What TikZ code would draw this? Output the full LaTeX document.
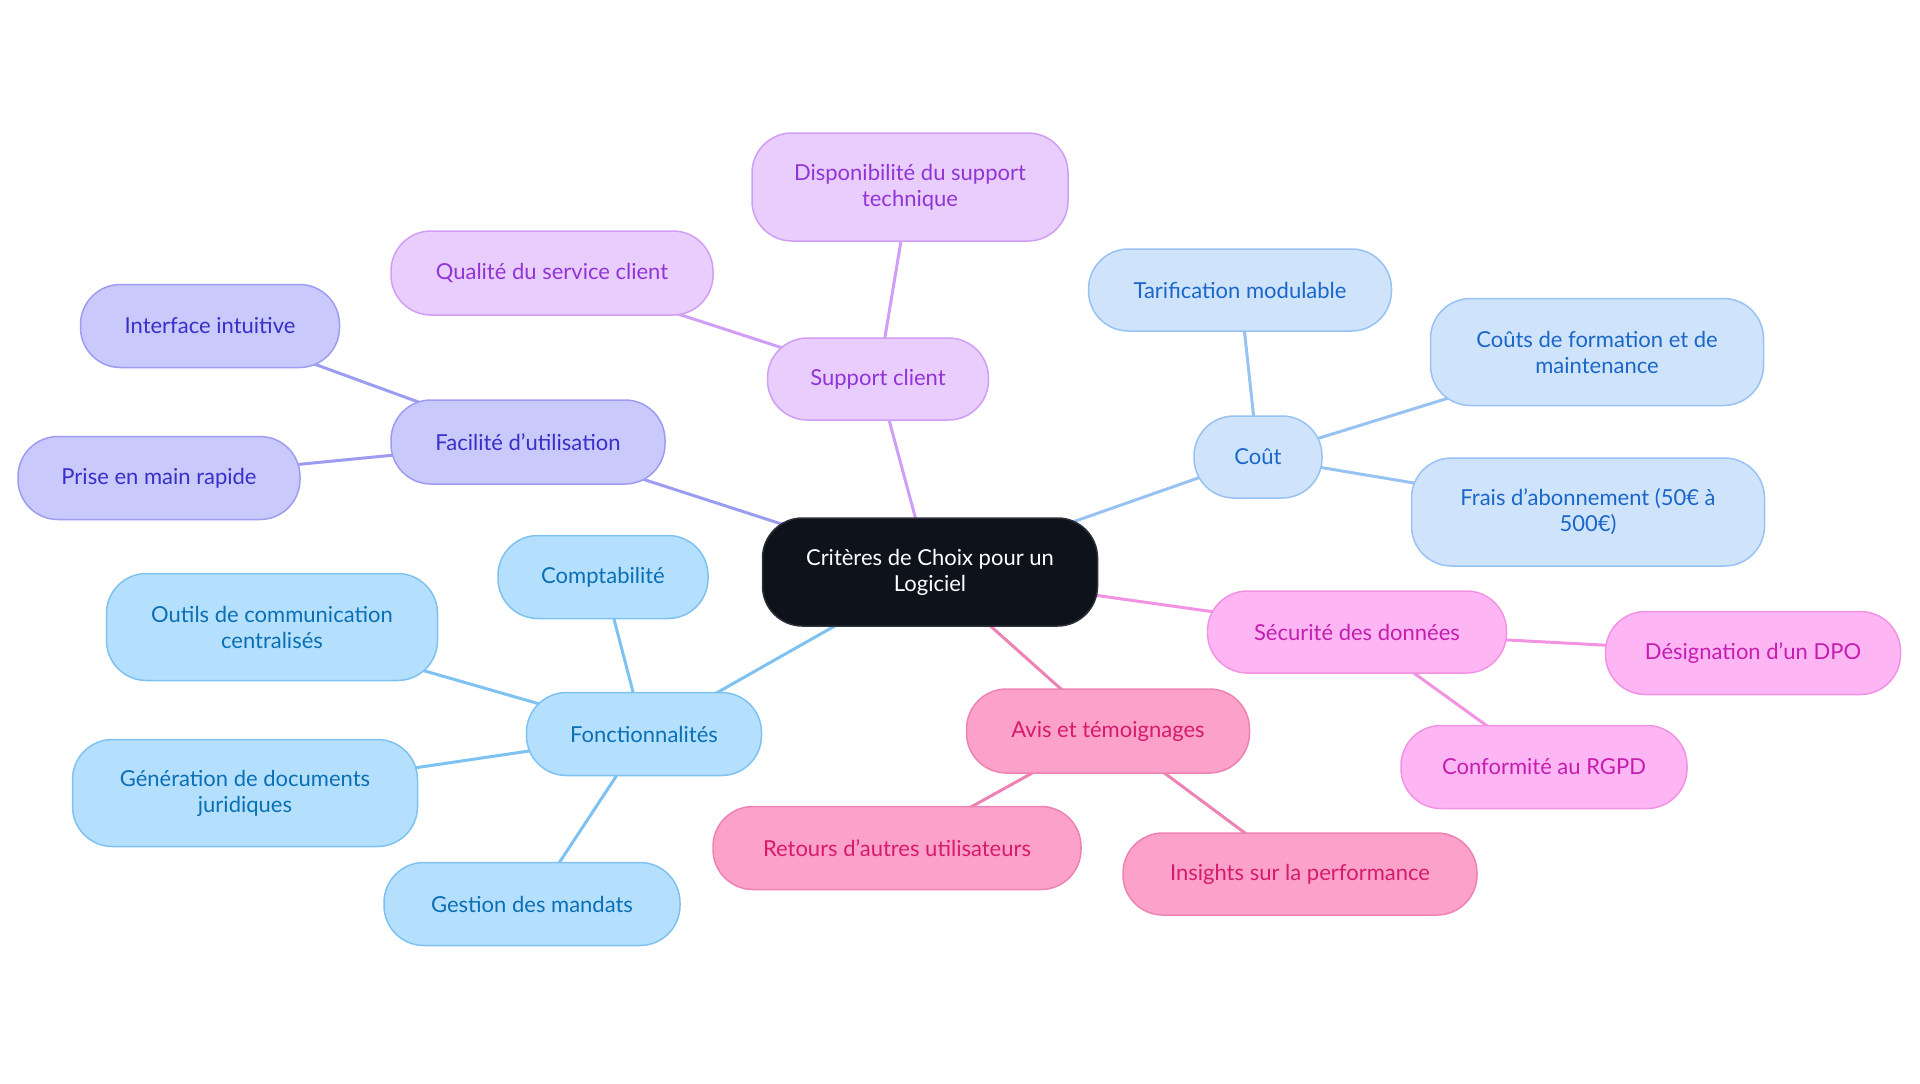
\documentclass[tikz,border=0pt]{standalone}
\usepackage{fontspec}
\setmainfont{Lato}[Ligatures=ResetAll]
\usetikzlibrary{backgrounds}
\definecolor{cenfill}{HTML}{0D121B}
\definecolor{cenborder}{HTML}{2B2F36}
\definecolor{indF}{HTML}{C9C9FB}\definecolor{indB}{HTML}{9C9CF0}\definecolor{indT}{HTML}{3730C8}
\definecolor{vioF}{HTML}{E9CDFD}\definecolor{vioB}{HTML}{D19EF6}\definecolor{vioT}{HTML}{9134D6}
\definecolor{lbF}{HTML}{CFE3FB}\definecolor{lbB}{HTML}{98C2F1}\definecolor{lbT}{HTML}{1A67C8}
\definecolor{skyF}{HTML}{B5E0FD}\definecolor{skyB}{HTML}{7DC2F1}\definecolor{skyT}{HTML}{0A6FB5}
\definecolor{pkF}{HTML}{FDB6F3}\definecolor{pkB}{HTML}{F292E2}\definecolor{pkT}{HTML}{C41DB0}
\definecolor{hpF}{HTML}{FCA1CA}\definecolor{hpB}{HTML}{EE82B4}\definecolor{hpT}{HTML}{D61A6C}
\tikzset{
  base/.style={rounded corners=20pt, draw, line width=0.75pt, align=center,
    font=\fontsize{11}{13}\selectfont, inner sep=0pt},
  sz/.style 2 args={minimum width=#1*0.5pt, minimum height=#2*0.5pt},
  cen/.style={base, fill=cenfill, draw=cenborder, text=white},
  ind/.style={base, fill=indF, draw=indB, text=indT},
  vio/.style={base, fill=vioF, draw=vioB, text=vioT},
  lb/.style={base, fill=lbF, draw=lbB, text=lbT},
  sky/.style={base, fill=skyF, draw=skyB, text=skyT},
  pk/.style={base, fill=pkF, draw=pkB, text=pkT},
  hp/.style={base, fill=hpF, draw=hpB, text=hpT},
  ln/.style={line width=1.5pt, draw=#1}
}
\begin{document}
\begin{tikzpicture}[x=0.5pt,y=-0.5pt]
\useasboundingbox (0,0) rectangle (1920,1083);
\node[cen,sz={335}{108}] (root) at (930,572) {Critères de Choix pour un\\Logiciel};
\node[vio,sz={221}{82}] (sup) at (878,379) {Support client};
\node[vio,sz={316}{108}] (dispo) at (910,187) {Disponibilité du support\\technique};
\node[vio,sz={322}{84}] (qual) at (552,273) {Qualité du service client};
\node[ind,sz={274}{84}] (fac) at (528,442) {Facilité d'utilisation};
\node[ind,sz={259}{83}] (inter) at (210,326) {Interface intuitive};
\node[ind,sz={282}{83}] (prise) at (159,478) {Prise en main rapide};
\node[lb,sz={128}{82}] (cout) at (1258,457) {Coût};
\node[lb,sz={303}{82}] (tarif) at (1240,290) {Tarification modulable};
\node[lb,sz={333}{107}] (form) at (1597,352) {Coûts de formation et de\\maintenance};
\node[lb,sz={353}{108}] (frais) at (1588,512) {Frais d'abonnement (50€ à\\500€)};
\node[pk,sz={299}{82}] (secu) at (1357,632) {Sécurité des données};
\node[pk,sz={295}{83}] (dpo) at (1753,653) {Désignation d'un DPO};
\node[pk,sz={286}{83}] (rgpd) at (1544,767) {Conformité au RGPD};
\node[hp,sz={283}{84}] (avis) at (1108,731) {Avis et témoignages};
\node[hp,sz={368}{83}] (ret) at (897,848) {Retours d'autres utilisateurs};
\node[hp,sz={354}{82}] (ins) at (1300,874) {Insights sur la performance};
\node[sky,sz={235}{83}] (fonc) at (644,734) {Fonctionnalités};
\node[sky,sz={210}{83}] (compta) at (603,577) {Comptabilité};
\node[sky,sz={331}{107}] (outils) at (272,627) {Outils de communication\\centralisés};
\node[sky,sz={345}{107}] (gen) at (245,793) {Génération de documents\\juridiques};
\node[sky,sz={296}{83}] (gest) at (532,904) {Gestion des mandats};
\begin{pgfonlayer}{background}
\draw[ln=vioB] (root.center) -- (sup.center);
\draw[ln=vioB] (sup.center) -- (dispo.center);
\draw[ln=vioB] (sup.center) -- (qual.center);
\draw[ln=indB] (root.center) -- (fac.center);
\draw[ln=indB] (fac.center) -- (inter.center);
\draw[ln=indB] (fac.center) -- (prise.center);
\draw[ln=lbB] (root.center) -- (cout.center);
\draw[ln=lbB] (cout.center) -- (tarif.center);
\draw[ln=lbB] (cout.center) -- (form.center);
\draw[ln=lbB] (cout.center) -- (frais.center);
\draw[ln=pkB] (root.center) -- (secu.center);
\draw[ln=pkB] (secu.center) -- (dpo.center);
\draw[ln=pkB] (secu.center) -- (rgpd.center);
\draw[ln=hpB] (root.center) -- (avis.center);
\draw[ln=hpB] (avis.center) -- (ret.center);
\draw[ln=hpB] (avis.center) -- (ins.center);
\draw[ln=skyB] (root.center) -- (fonc.center);
\draw[ln=skyB] (fonc.center) -- (compta.center);
\draw[ln=skyB] (fonc.center) -- (outils.center);
\draw[ln=skyB] (fonc.center) -- (gen.center);
\draw[ln=skyB] (fonc.center) -- (gest.center);
\end{pgfonlayer}
\end{tikzpicture}
\end{document}
